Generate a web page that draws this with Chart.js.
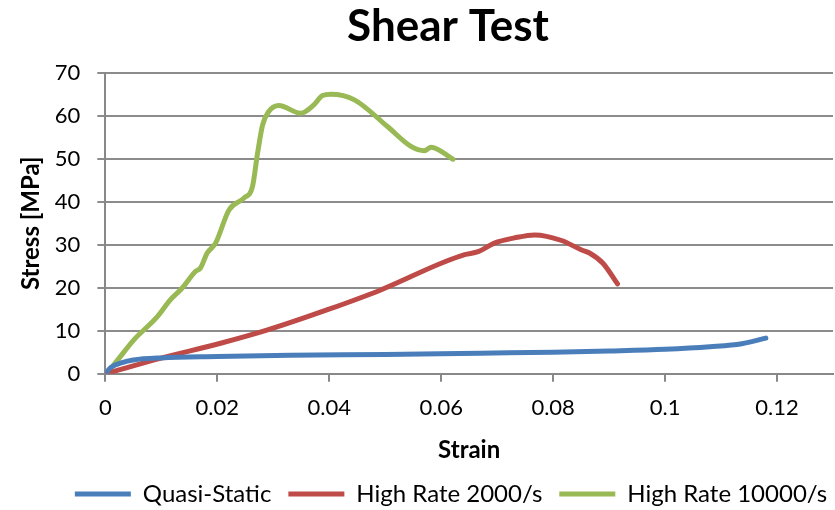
<!DOCTYPE html>
<html>
<head>
<meta charset="utf-8">
<script src="https://cdn.jsdelivr.net/npm/chart.js@4.4.1/dist/chart.umd.min.js"></script>
<style>
  body { margin: 0; background: #fff; }
  #wrap { width: 835px; height: 510px; }
</style>
</head>
<body>
<div id="wrap"><canvas id="grafico" width="835" height="510"></canvas></div>
<script>
// ── DATOS ──────────────────────────────────────────────
const quasiStrain = [0, 0.001, 0.003, 0.005, 0.01, 0.02, 0.033, 0.05, 0.067, 0.08, 0.09, 0.1, 0.108, 0.1137, 0.118];
const quasiStress = [0, 1.5, 2.6, 3.2, 3.7, 4.0, 4.3, 4.5, 4.8, 5.0, 5.3, 5.7, 6.3, 7.0, 8.3];

const rate2000Strain = [0, 0.0098, 0.0206, 0.029, 0.0397, 0.0492, 0.06, 0.0642, 0.0666, 0.0695, 0.0731, 0.0767, 0.0815, 0.0851, 0.0865, 0.0889, 0.0915];
const rate2000Stress = [0, 3.6, 7.1, 10.2, 14.9, 19.5, 25.7, 27.7, 28.4, 30.4, 31.6, 32.3, 31.0, 28.8, 28.1, 25.7, 20.9];

const rate10000Strain = [0, 0.0015, 0.0051, 0.0093, 0.0116, 0.0137, 0.0161, 0.017, 0.0182, 0.0197, 0.0221, 0.0248, 0.0263, 0.0272, 0.0281, 0.0292, 0.031, 0.0349, 0.0373, 0.0388, 0.0403, 0.0445, 0.0504, 0.0546, 0.057, 0.0582, 0.0621];
const rate10000Stress = [0, 2.1, 7.9, 13.3, 17.2, 19.9, 23.8, 24.6, 28.1, 30.4, 38.1, 40.9, 43.6, 51.3, 57.9, 61.0, 62.4, 60.6, 62.6, 64.7, 65.0, 63.7, 57.5, 52.9, 51.9, 52.7, 49.9];

const seriesNames = ["Quasi-Static", "High Rate 2000/s", "High Rate 10000/s"];
const seriesColors = ["#4A7EBB", "#BE4B48", "#98B954"];

const xTickValues = [0, 0.02, 0.04, 0.06, 0.08, 0.1, 0.12];
const xTickLabels = ["0", "0.02", "0.04", "0.06", "0.08", "0.1", "0.12"];
const fuente = "Lato, 'Liberation Sans', sans-serif";

function puntos(xs, ys) {
  return xs.map((x, i) => ({ x, y: ys[i] }));
}

const datos = [
  puntos(quasiStrain, quasiStress),
  puntos(rate2000Strain, rate2000Stress),
  puntos(rate10000Strain, rate10000Stress),
];

const datasets = datos.map((d, i) => ({
  label: seriesNames[i],
  data: d,
  borderColor: seriesColors[i],
  backgroundColor: seriesColors[i],
  borderWidth: 5,
  borderCapStyle: "round",
  borderJoinStyle: "round",
  pointRadius: 0,
  cubicInterpolationMode: "monotone",
  fill: false,
}));

// título y leyenda van centrados sobre el área de trazado, como en Excel
const centrarBloques = {
  id: "centrarBloques",
  afterLayout(chart) {
    const t = chart.titleBlock;
    if (t) { t.left += 23; t.right += 23; }
    const l = chart.legend;
    if (l) { l.left += 26; l.right += 26; }
  },
};

// ── GRÁFICO ──────────────────────────────────────────────
const ctx = document.getElementById("grafico").getContext("2d");
new Chart(ctx, {
  type: "line",
  data: { datasets },
  plugins: [centrarBloques],
  options: {
    responsive: false,
    animation: false,
    layout: { padding: { left: 17, right: 2, top: 0, bottom: -6 } },
    plugins: {
      title: {
        display: true,
        text: "Shear Test",
        color: "#000",
        font: { family: fuente, size: 44, weight: "bold" },
        padding: { top: 0, bottom: 20 },
      },
      legend: {
        position: "bottom",
        labels: {
          color: "#000",
          font: { family: fuente, size: 24 },
          usePointStyle: true,
          pointStyle: "line",
          pointStyleWidth: 56,
          padding: 17,
        },
      },
      tooltip: { enabled: false },
    },
    scales: {
      x: {
        type: "linear",
        min: 0,
        max: 0.13,
        bounds: "data",
        afterBuildTicks: axis => {
          axis.ticks = xTickValues.map(v => ({ value: v }));
        },
        ticks: {
          color: "#000",
          font: { family: fuente, size: 22 },
          padding: 13,
          maxRotation: 0,
          autoSkip: false,
          callback: (v, i) => xTickLabels[i],
        },
        grid: { drawOnChartArea: false, drawTicks: true, tickLength: 8, color: "#888", lineWidth: 2 },
        border: { color: "#888", width: 2 },
        title: {
          display: true,
          text: "Strain",
          color: "#000",
          font: { family: fuente, size: 24, weight: "bold" },
          padding: { top: 2, bottom: 0 },
        },
      },
      y: {
        min: 0,
        max: 70,
        ticks: {
          stepSize: 10,
          color: "#000",
          font: { family: fuente, size: 22 },
          padding: 17,
        },
        grid: { color: "#8C8C8C", lineWidth: 2, drawTicks: true, tickLength: 8 },
        border: { color: "#888", width: 2 },
        title: {
          display: true,
          text: "Stress [MPa]",
          color: "#000",
          font: { family: fuente, size: 24, weight: "bold" },
          padding: { top: 0, bottom: -8 },
        },
      },
    },
  },
});
</script>
</body>
</html>
